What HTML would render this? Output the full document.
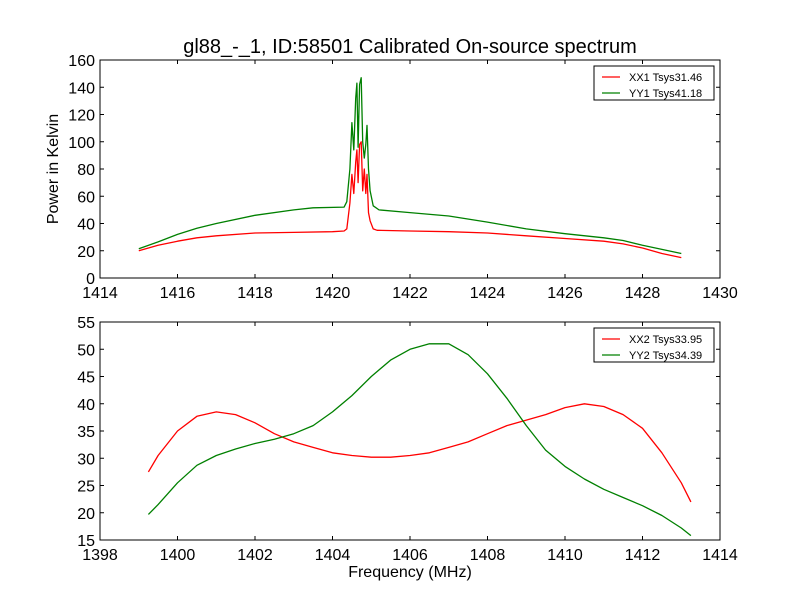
<!DOCTYPE html>
<html><head><meta charset="utf-8"><style>
body{margin:0;background:#fff}
svg{display:block;font-family:"Liberation Sans","DejaVu Sans",sans-serif}
</style></head><body>
<svg id="chart" width="800" height="600" viewBox="0 0 800 600">
<rect width="800" height="600" fill="#fff"/>
<text x="410" y="53" font-size="20" text-anchor="middle">gl88_-_1, ID:58501 Calibrated On-source spectrum</text>
<text x="0" y="0" font-size="16" text-anchor="middle" transform="translate(58,169) rotate(-90)">Power in Kelvin</text>
<text x="410" y="577" font-size="16" text-anchor="middle">Frequency (MHz)</text>
<g id="top"></g><g id="bot"></g>
</svg>
<script>
const topFreqXX=[1415,1415.5,1416,1416.5,1417,1418,1419,1420,1420.3,1420.37,1420.45,1420.5,1420.55,1420.6,1420.63,1420.66,1420.7,1420.74,1420.78,1420.82,1420.86,1420.89,1420.93,1420.97,1421.05,1421.15,1422,1423,1424,1425,1426,1427,1427.5,1428,1428.5,1429];
const topXX=[20,24,27,29.5,31,33,33.5,34,34.5,36,55,76,62,85,94,70,98,100,64,80,62,76,48,42,36,35,34.5,34,33,31,29,27,25,22,18,15];
const topFreqYY=[1415,1415.5,1416,1416.5,1417,1418,1419,1419.5,1420.3,1420.37,1420.45,1420.5,1420.55,1420.6,1420.63,1420.66,1420.7,1420.74,1420.78,1420.82,1420.86,1420.89,1420.93,1420.97,1421.05,1421.2,1422,1423,1424,1425,1426,1427,1427.5,1428,1428.5,1429];
const topYY=[21.5,26.5,32,36.5,40,46,50,51.5,52,56,80,114,94,132,143,96,142,147,100,88,98,112,80,64,53,50,48,45.5,41,36,32.5,29.5,27.5,24,21,18];
const botFreq=[1399.25,1399.5,1400,1400.5,1401,1401.5,1402,1402.5,1403,1403.5,1404,1404.5,1405,1405.5,1406,1406.5,1407,1407.5,1408,1408.5,1409,1409.5,1410,1410.5,1411,1411.5,1412,1412.5,1413,1413.25];
const botXX=[27.5,30.5,35,37.7,38.5,38,36.5,34.5,33,32,31,30.5,30.2,30.2,30.5,31,32,33,34.5,36,37,38,39.3,40,39.5,38,35.5,31,25.5,22];
const botYY=[19.7,21.5,25.5,28.7,30.5,31.7,32.7,33.5,34.5,36,38.5,41.5,45,48,50,51,51,49,45.5,41,36,31.5,28.5,26.2,24.3,22.8,21.3,19.5,17.2,15.8];
const topXTicks=[1414,1416,1418,1420,1422,1424,1426,1428,1430];
const topYTicks=[0,20,40,60,80,100,120,140,160];
const botXTicks=[1398,1400,1402,1404,1406,1408,1410,1412,1414];
const botYTicks=[15,20,25,30,35,40,45,50,55];
const NS='http://www.w3.org/2000/svg';
function mk(p,t,a){const e=document.createElementNS(NS,t);for(const k in a)e.setAttribute(k,a[k]);p.appendChild(e);return e;}
function panel(g,box,xd,yd,xt,yt,series,legend){
  const [L,T,R,B]=box;
  const sx=v=>L+(v-xd[0])/(xd[1]-xd[0])*(R-L);
  const sy=v=>B-(v-yd[0])/(yd[1]-yd[0])*(B-T);
  series.forEach(s=>{
    const d=s.x.map((v,i)=>(i?'L':'M')+sx(v).toFixed(1)+','+sy(s.y[i]).toFixed(1)).join('');
    const p=mk(g,'path',{d:d,fill:'none',stroke:s.c,'stroke-width':1.3,'stroke-linejoin':'round'});
    
    
  });
  const fr=mk(g,'rect',{x:L,y:T,width:R-L,height:B-T,fill:'none',stroke:'#000','stroke-width':1});
  
  
  xt.forEach(v=>{const x=sx(v);
    mk(g,'line',{x1:x,y1:B,x2:x,y2:B-4,stroke:'#000'});mk(g,'line',{x1:x,y1:T,x2:x,y2:T+4,stroke:'#000'});
    const t=mk(g,'text',{x:x,y:B+20,'font-size':16,'text-anchor':'middle'});t.textContent=v;
    
    });
  yt.forEach(v=>{const y=sy(v);
    mk(g,'line',{x1:L,y1:y,x2:L+4,y2:y,stroke:'#000'});mk(g,'line',{x1:R,y1:y,x2:R-4,y2:y,stroke:'#000'});
    const t=mk(g,'text',{x:L-5,y:y+6,'font-size':16,'text-anchor':'end'});t.textContent=v;
    
    });
  const lg=mk(g,'g',{});
  
  
  const lx=R-126,ly=T+6;
  mk(lg,'rect',{x:lx,y:ly,width:120,height:34,fill:'#fff',stroke:'#000'});
  series.forEach((s,i)=>{const y=ly+11+i*16;
    mk(lg,'line',{x1:lx+8,y1:y,x2:lx+26,y2:y,stroke:s.c,'stroke-width':1.3});
    const t=mk(lg,'text',{x:lx+35,y:y+4,'font-size':11});t.textContent=legend[i];
    
    });
}
panel(document.getElementById('top'),[100,60,720,278],[1414,1430],[0,160],topXTicks,topYTicks,
 [{x:topFreqXX,y:topXX,c:'#ff0000',name:'xx1-line'},{x:topFreqYY,y:topYY,c:'#008000',name:'yy1-line'}],['XX1 Tsys31.46','YY1 Tsys41.18']);
panel(document.getElementById('bot'),[100,322,720,540],[1398,1414],[15,55],botXTicks,botYTicks,
 [{x:botFreq,y:botXX,c:'#ff0000',name:'xx2-line'},{x:botFreq,y:botYY,c:'#008000',name:'yy2-line'}],['XX2 Tsys33.95','YY2 Tsys34.39']);
</script>
</body></html>
